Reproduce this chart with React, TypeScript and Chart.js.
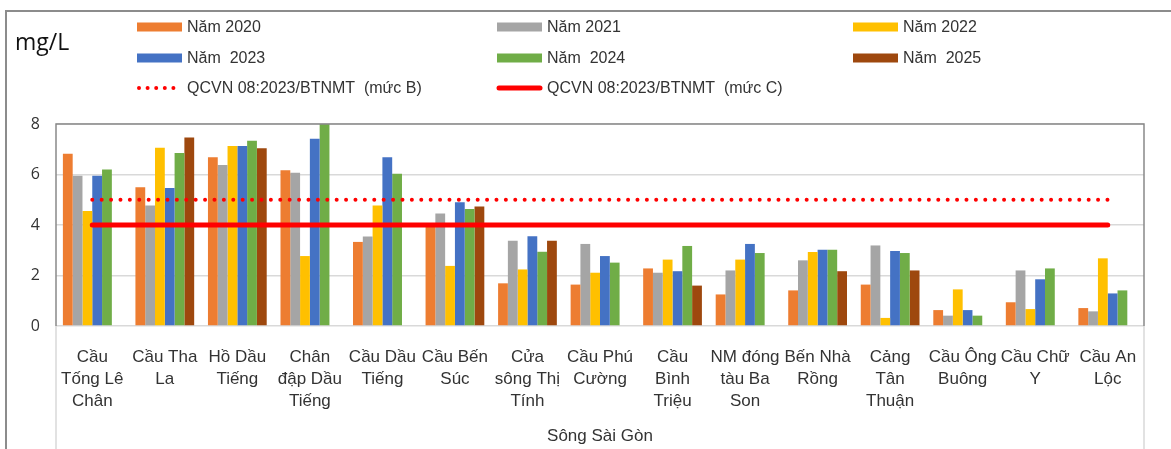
import React, { useEffect, useRef } from "react";
import { Chart, registerables } from "chart.js";

Chart.register(...registerables);

// Monitoring stations along the river (multi-line axis labels)
const stations: string[][] = [
  ["Cầu", "Tống Lê", "Chân"],
  ["Cầu Tha", "La"],
  ["Hồ Dầu", "Tiếng"],
  ["Chân", "đập Dầu", "Tiếng"],
  ["Cầu Dầu", "Tiếng"],
  ["Cầu Bến", "Súc"],
  ["Cửa", "sông Thị", "Tính"],
  ["Cầu Phú", "Cường"],
  ["Cầu", "Bình", "Triệu"],
  ["NM đóng", "tàu Ba", "Son"],
  ["Bến Nhà", "Rồng"],
  ["Cảng", "Tân", "Thuận"],
  ["Cầu Ông", "Buông"],
  ["Cầu Chữ", "Y"],
  ["Cầu An", "Lộc"],
];

const riverName = "Sông Sài Gòn";
const unitLabel = "mg/L";

const seriesNames = ["Năm 2020", "Năm 2021", "Năm 2022", "Năm  2023", "Năm  2024", "Năm  2025"];

const values2020 = [6.82, 5.5, 6.68, 6.17, 3.33, 4.02, 1.69, 1.64, 2.28, 1.25, 1.41, 1.64, 0.63, 0.94, 0.71];
const values2021 = [5.95, 4.77, 6.38, 6.07, 3.54, 4.46, 3.38, 3.25, 2.11, 2.2, 2.6, 3.19, 0.41, 2.2, 0.58];
const values2022 = [4.55, 7.06, 7.13, 2.77, 4.77, 2.38, 2.24, 2.11, 2.63, 2.63, 2.93, 0.32, 1.45, 0.67, 2.68];
const values2023 = [5.95, 5.47, 7.13, 7.42, 6.68, 4.9, 3.55, 2.77, 2.17, 3.25, 3.02, 2.97, 0.63, 1.85, 1.29];
const values2024 = [6.2, 6.85, 7.34, 8.0, 6.03, 4.63, 2.94, 2.51, 3.17, 2.89, 3.02, 2.89, 0.41, 2.28, 1.41];
const values2025 = [null, 7.47, 7.04, null, null, 4.73, 3.38, null, 1.6, null, 2.17, 2.2, null, null, null];

// Regulation thresholds
const limitNames = ["QCVN 08:2023/BTNMT  (mức B)", "QCVN 08:2023/BTNMT  (mức C)"];
const limitB = 5;
const limitC = 4;

const yMin = 0;
const yMax = 8;
const yStep = 2;

const seriesColors = ["#ED7D31", "#A5A5A5", "#FFC000", "#4472C4", "#70AD47", "#9E480E"];
const limitColor = "#FF0000";

const allSeries = [values2020, values2021, values2022, values2023, values2024, values2025];

const W = 1171;
const H = 449;
const TEXT = "#333333";
const LABEL_FONT = '"Liberation Sans", Arial, sans-serif';

// Frame, plot border, unit label and the three-column legend
const decorPlugin = {
  id: "decor",
  afterDraw(chart: any) {
    const ctx = chart.ctx as CanvasRenderingContext2D;
    const a = chart.chartArea;
    ctx.save();

    // outer chart frame
    ctx.strokeStyle = "#8c8c8c";
    ctx.lineWidth = 2;
    ctx.beginPath();
    ctx.moveTo(6, H);
    ctx.lineTo(6, 11);
    ctx.lineTo(W, 11);
    ctx.stroke();

    // category box below the plot
    ctx.strokeStyle = "#d9d9d9";
    ctx.lineWidth = 1.5;
    ctx.beginPath();
    ctx.moveTo(a.left, a.bottom);
    ctx.lineTo(a.left, H);
    ctx.moveTo(a.right, a.bottom);
    ctx.lineTo(a.right, H);
    ctx.stroke();

    // plot area border
    ctx.strokeStyle = "#898989";
    ctx.lineWidth = 1.5;
    ctx.beginPath();
    ctx.moveTo(a.left, a.bottom);
    ctx.lineTo(a.left, a.top);
    ctx.lineTo(a.right, a.top);
    ctx.lineTo(a.right, a.bottom);
    ctx.stroke();

    // unit label
    ctx.fillStyle = "#111";
    ctx.font = '23px "Open Sans", sans-serif';
    ctx.textAlign = "left";
    ctx.textBaseline = "middle";
    ctx.fillText(unitLabel, 15, 43);

    // legend
    const cols = [137, 497, 853];
    const rows = [27, 58, 88];
    const sw = 45;
    ctx.font = "16px " + LABEL_FONT;
    ctx.fillStyle = TEXT;
    seriesNames.forEach((name, i) => {
      const x = cols[i % 3];
      const y = rows[Math.floor(i / 3)];
      ctx.fillStyle = seriesColors[i];
      ctx.fillRect(x, y - 4.5, sw, 9);
      ctx.fillStyle = TEXT;
      ctx.fillText(name, x + sw + 5, y + 1);
    });
    limitNames.forEach((name, i) => {
      const x = cols[i];
      const y = rows[2];
      ctx.strokeStyle = limitColor;
      ctx.lineCap = "round";
      if (i === 0) {
        ctx.lineWidth = 4;
        ctx.setLineDash([0, 8.6]);
      } else {
        ctx.lineWidth = 5;
        ctx.setLineDash([]);
      }
      ctx.beginPath();
      ctx.moveTo(x + 2, y);
      ctx.lineTo(x + sw - 2, y);
      ctx.stroke();
      ctx.setLineDash([]);
      ctx.fillStyle = TEXT;
      ctx.fillText(name, x + sw + 5, y + 1);
    });

    ctx.restore();
  },
};

export default function App() {
  const canvasRef = useRef<HTMLCanvasElement | null>(null);

  useEffect(() => {
    const canvas = canvasRef.current;
    if (!canvas) return;

    const barSets = allSeries.map((data, i) => ({
      type: "bar" as const,
      label: seriesNames[i],
      data,
      backgroundColor: seriesColors[i],
      borderWidth: 0,
      categoryPercentage: 0.81,
      barPercentage: 1.0,
      order: 1,
    }));

    const lineSets = [
      {
        type: "line" as const,
        label: limitNames[0],
        data: stations.map(() => limitB),
        borderColor: limitColor,
        borderWidth: 4,
        borderDash: [0, 9.4],
        borderCapStyle: "round",
        pointRadius: 0,
        fill: false,
        order: 0,
      },
      {
        type: "line" as const,
        label: limitNames[1],
        data: stations.map(() => limitC),
        borderColor: limitColor,
        borderWidth: 5,
        borderCapStyle: "round",
        pointRadius: 0,
        fill: false,
        order: 0,
      },
    ];

    const chart = new Chart(canvas, {
      type: "bar",
      data: {
        labels: stations,
        datasets: [...barSets, ...lineSets] as any,
      },
      options: {
        responsive: false,
        animation: false,
        devicePixelRatio: 1,
        events: [],
        layout: { padding: { left: 0, top: 124, right: 27, bottom: 0 } },
        plugins: {
          legend: { display: false },
          tooltip: { enabled: false },
        },
        scales: {
          x: {
            offset: true,
            grid: { display: false },
            border: { display: false },
            ticks: {
              autoSkip: false,
              maxRotation: 0,
              minRotation: 0,
              padding: 12,
              color: TEXT,
              font: { family: LABEL_FONT, size: 17, lineHeight: 1.3 },
            },
            title: {
              display: true,
              text: riverName,
              color: TEXT,
              font: { family: LABEL_FONT, size: 17, lineHeight: 1.2 },
              padding: { top: 0, bottom: 2 },
            },
            afterFit(scale: any) {
              scale.height = 123;
            },
          },
          y: {
            min: yMin,
            max: yMax,
            ticks: {
              stepSize: yStep,
              padding: 16,
              color: TEXT,
              font: { family: '"Open Sans", sans-serif', size: 16 },
            },
            grid: { color: "#d9d9d9", lineWidth: 1.5, drawTicks: false },
            border: { display: false },
            afterFit(scale: any) {
              scale.width = 56;
            },
          },
        },
      },
      plugins: [decorPlugin],
    });

    return () => chart.destroy();
  }, []);

  return (
    <div
      style={{
        position: "fixed",
        left: 0,
        top: 0,
        width: W,
        height: H,
        background: "#fff",
      }}
    >
      <canvas ref={canvasRef} width={W} height={H} style={{ width: W, height: H, display: "block" }} />
    </div>
  );
}
